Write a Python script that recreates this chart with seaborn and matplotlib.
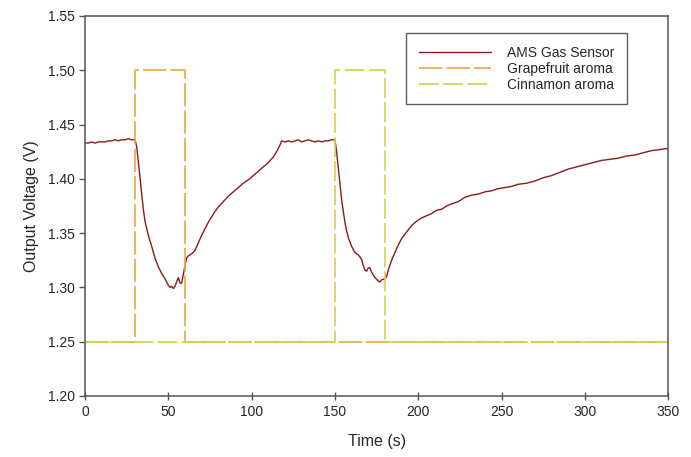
import seaborn as sns
import matplotlib.pyplot as plt
import pandas as pd

# sensor trace
sensor_t = [0, 2, 4, 6, 8, 10, 12, 14, 16, 18, 20, 22, 24, 26, 28, 30,
            31, 32, 33, 34, 35, 36, 38, 40, 42, 44, 46, 48, 50, 51, 52, 53, 54, 55, 56, 57, 58, 59,
            60, 61, 62, 64, 66, 68, 70, 72, 74, 76, 78, 80, 83, 86, 89, 92, 95, 98, 101, 104,
            107, 110, 113, 115, 117, 118, 120, 122, 124, 126, 128, 130, 132, 134, 136, 138, 140,
            142, 144, 146, 148, 150,
            151, 152, 153, 154, 155, 156, 157, 158, 160, 162, 164, 166, 167, 168, 169, 170, 171,
            172, 174, 176, 177, 178, 180, 181, 182, 184, 186, 188, 190, 193, 196, 199, 202, 205,
            208, 211, 214, 217, 220, 224, 228, 232, 236, 240, 244, 248, 252, 256, 260, 265, 270,
            275, 280, 285, 290, 295, 300, 305, 310, 315, 320, 325, 330, 335, 340, 345, 350]
sensor_v = [1.433, 1.433, 1.434, 1.433, 1.434, 1.434, 1.434, 1.435, 1.435, 1.436, 1.435, 1.436,
            1.436, 1.437, 1.436, 1.436,
            1.430, 1.416, 1.401, 1.386, 1.372, 1.361, 1.348, 1.338, 1.327, 1.319, 1.313, 1.308,
            1.302, 1.300, 1.301, 1.299, 1.301, 1.305, 1.309, 1.304, 1.304, 1.312,
            1.320, 1.327, 1.329, 1.331, 1.334, 1.341, 1.348, 1.354, 1.360, 1.365, 1.370, 1.374,
            1.379, 1.384, 1.388, 1.392, 1.396, 1.399, 1.403, 1.407,
            1.411, 1.415, 1.420, 1.425, 1.431, 1.435, 1.434, 1.435, 1.434, 1.435, 1.436, 1.434,
            1.435, 1.436, 1.435, 1.434, 1.435, 1.434, 1.435, 1.435, 1.436, 1.436,
            1.425, 1.410, 1.394, 1.381, 1.370, 1.360, 1.352, 1.346, 1.338, 1.332, 1.330, 1.326,
            1.320, 1.316, 1.315, 1.318, 1.318, 1.314, 1.309, 1.306, 1.305, 1.307, 1.308, 1.310,
            1.316, 1.325, 1.332, 1.339, 1.345, 1.351, 1.357, 1.361, 1.364, 1.366, 1.368, 1.371,
            1.372, 1.375, 1.377, 1.379, 1.383, 1.385, 1.386, 1.388, 1.389, 1.391, 1.392, 1.393,
            1.395, 1.396, 1.398, 1.401, 1.403, 1.406, 1.409, 1.411, 1.413, 1.415, 1.417, 1.418,
            1.419, 1.421, 1.422, 1.424, 1.426, 1.427, 1.428]

# aroma pulses (on/off)
grapefruit_t = [0, 30, 30, 60, 60, 350]
grapefruit_v = [1.25, 1.25, 1.50, 1.50, 1.25, 1.25]
cinnamon_t = [0, 150, 150, 180, 180, 350]
cinnamon_v = [1.25, 1.25, 1.50, 1.50, 1.25, 1.25]

sns.set_style("ticks")
plt.rcParams['font.family'] = ['Liberation Sans', 'DejaVu Sans']

fig, ax = plt.subplots(figsize=(6.91, 4.57), dpi=100)
fig.subplots_adjust(left=0.123, right=0.967, bottom=0.1335, top=0.965)

sns.lineplot(x=sensor_t, y=sensor_v, color="#8B1A1A", linewidth=1.0,
             estimator=None, sort=False, ax=ax, label="AMS Gas Sensor")
sns.lineplot(x=grapefruit_t, y=grapefruit_v, color="#E8A845", linewidth=1.2,
             estimator=None, sort=False, ax=ax, label="Grapefruit aroma",
             dashes=False)
sns.lineplot(x=cinnamon_t, y=cinnamon_v, color="#D6D050", linewidth=1.2,
             estimator=None, sort=False, ax=ax, label="Cinnamon aroma",
             dashes=False)
ax.lines[1].set_dashes((14, 2.5))
ax.lines[2].set_dashes((12, 2.5))

ax.set_xlim(0, 350)
ax.set_ylim(1.20, 1.55)
ax.set_xticks(range(0, 351, 50))
ax.set_yticks([1.20, 1.25, 1.30, 1.35, 1.40, 1.45, 1.50, 1.55])
ax.yaxis.set_major_formatter(plt.FormatStrFormatter('%.2f'))
ax.tick_params(axis='x', direction='inout', length=6, width=1, color='#555555', labelsize=10)
ax.tick_params(axis='y', direction='out', length=4, width=1, color='#555555', labelsize=10)
for s in ax.spines.values():
    s.set_color('#555555')
    s.set_linewidth(1.1)

ax.set_xlabel("Time (s)", fontsize=11.5, labelpad=11)
ax.set_ylabel("Output Voltage (V)", fontsize=11.5, labelpad=6)

leg = ax.legend(loc='upper right', bbox_to_anchor=(0.930, 0.955), fontsize=10,
                frameon=True, fancybox=False, edgecolor='#333333', handlelength=5.2,
                handletextpad=1.2, labelspacing=0.15, borderpad=0.9, borderaxespad=0)
leg.get_frame().set_linewidth(1.0)

plt.savefig("out.png", dpi=100)
